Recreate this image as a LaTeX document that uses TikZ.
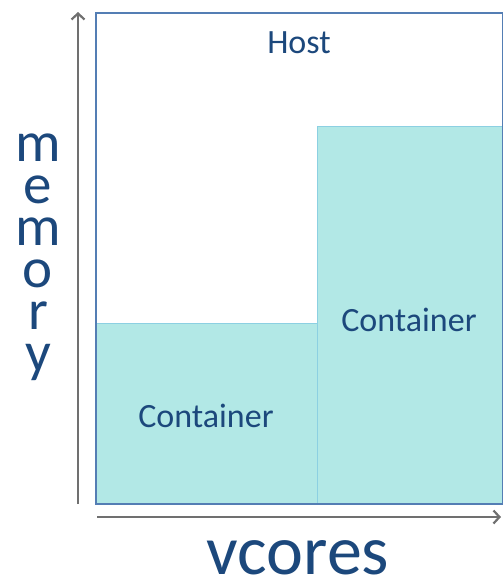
\documentclass[tikz,border=0pt]{standalone}
\usepackage{fontspec}
\setmainfont{Carlito}
\usetikzlibrary{arrows.meta}
\definecolor{txtblue}{RGB}{28,72,124}
\definecolor{hostline}{RGB}{84,126,180}
\definecolor{contfill}{RGB}{178,232,230}
\definecolor{contline}{RGB}{140,208,226}
\definecolor{axisgrey}{RGB}{112,112,112}
\tikzset{
  lbl/.style={text=txtblue, font=\fontsize{34}{40}\selectfont, inner sep=0pt},
  contbox/.style={draw=contline, fill=contfill, line width=1pt, inner sep=0pt},
  hostbox/.style={draw=hostline, line width=1.6pt, inner sep=0pt},
  axis/.style={draw=axisgrey, line width=2pt, -{Straight Barb[length=6pt,width=13pt,line width=2.2pt]}}
}
\begin{document}
\begin{tikzpicture}[x=1pt,y=-1pt]
\useasboundingbox (0,0) rectangle (503,587);
% containers
\node[contbox, minimum width=221pt, minimum height=180pt, anchor=north west] (c1) at (96,323) {};
\node[contbox, minimum width=185pt, minimum height=377pt, anchor=north west] (c2) at (317,126) {};
% host
\node[hostbox, minimum width=407pt, minimum height=491pt, anchor=north west] (host) at (95,12) {};
% labels
\node[lbl] (hostlbl) at (299,43) {Host};
\node[lbl] (c1lbl) at (206,416) {Container};
\node[lbl] (c2lbl) at (409,320) {Container};
% axes
\coordinate (yb) at (78,504);
\coordinate (yt) at (78,12);
\coordinate (xl) at (97,517);
\coordinate (xr) at (501,517);
\draw[axis] (yb) -- (yt);
\draw[axis] (xl) -- (xr);
% axis titles
\node[text=txtblue, align=center, inner sep=0pt, font=\fontsize{57}{42}\selectfont] (mem) at (38,257) {m\\e\\m\\o\\r\\y};
\node[text=txtblue, inner sep=0pt, font=\fontsize{70}{70}\selectfont] (vc) at (298,558) {vcores};
\end{tikzpicture}
\end{document}
